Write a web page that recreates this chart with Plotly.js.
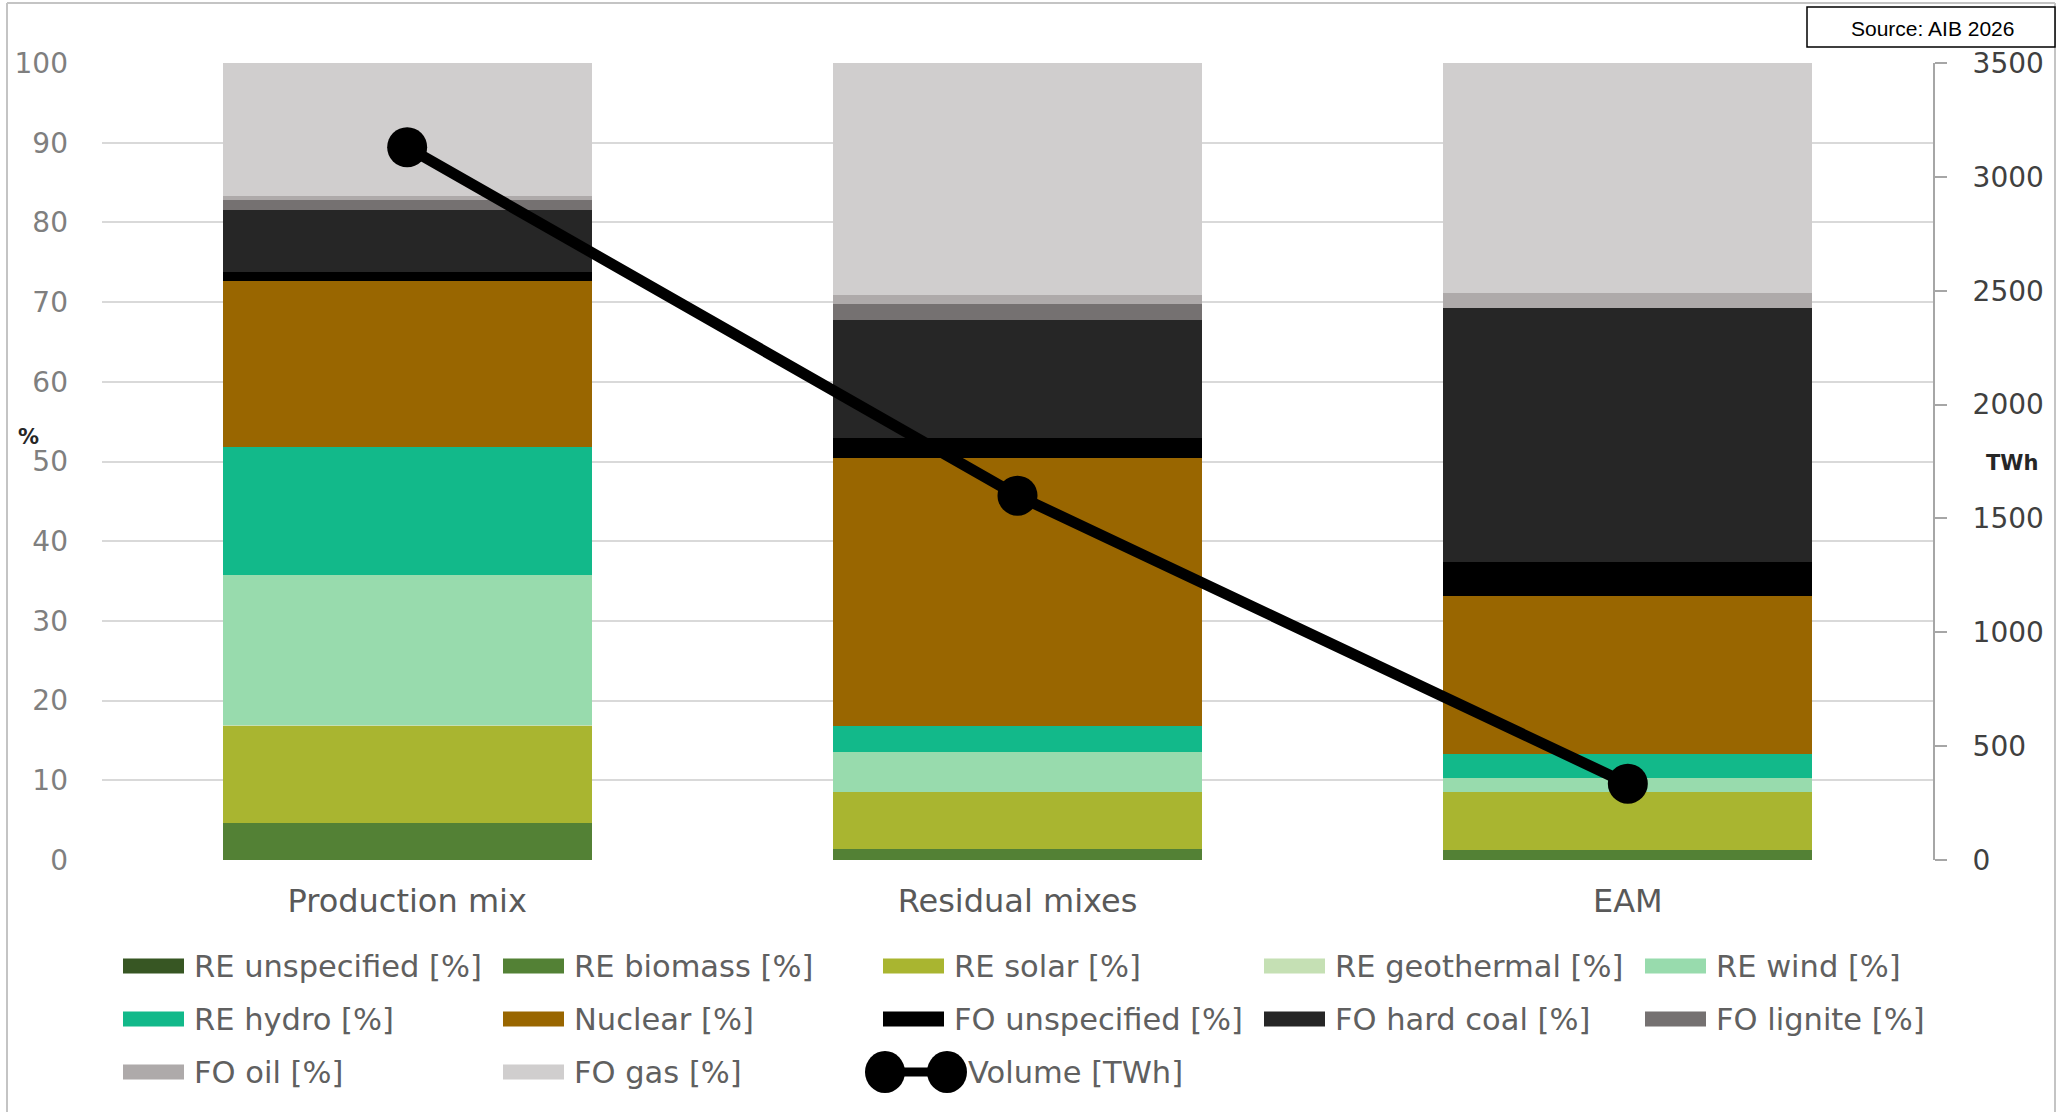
<!DOCTYPE html>
<html>
<head>
<meta charset="utf-8">
<script src="https://cdn.plot.ly/plotly-3.0.1.min.js"></script>
<style>
  html, body { margin: 0; padding: 0; background: #ffffff; }
  #chart { width: 2065px; height: 1112px; }
</style>
</head>
<body>
<div id="chart"></div>
<script>
// ---------------- DATA ----------------
const categories = ['Production mix', 'Residual mixes', 'EAM'];

const reUnspecified = [0, 0, 0];
const reBiomass     = [4.7, 1.4, 1.2];
const reSolar       = [12.1, 7.1, 7.3];
const reGeothermal  = [0.1, 0, 0];
const reWind        = [18.8, 5.0, 1.8];
const reHydro       = [16.1, 3.3, 3.0];
const nuclear       = [20.8, 33.6, 19.8];
const foUnspecified = [1.2, 2.5, 4.3];
const foHardCoal    = [7.8, 14.9, 31.9];
const foLignite     = [1.2, 2.0, 0];
const foOil         = [0.5, 1.1, 1.9];
const foGas         = [16.7, 29.1, 28.8];

const volumeTWh     = [3130, 1600, 335];

const seriesNames = [
  'RE unspecified [%]', 'RE biomass [%]', 'RE solar [%]', 'RE geothermal [%]', 'RE wind [%]',
  'RE hydro [%]', 'Nuclear [%]', 'FO unspecified [%]', 'FO hard coal [%]', 'FO lignite [%]',
  'FO oil [%]', 'FO gas [%]'
];
const seriesValues = [
  reUnspecified, reBiomass, reSolar, reGeothermal, reWind,
  reHydro, nuclear, foUnspecified, foHardCoal, foLignite,
  foOil, foGas
];
const volumeName = 'Volume [TWh]';

const yTicksLeft  = [0, 10, 20, 30, 40, 50, 60, 70, 80, 90, 100];
const yTicksRight = [0, 500, 1000, 1500, 2000, 2500, 3000, 3500];

// ---------------- STYLE ----------------
const seriesColors = [
  '#375623', '#538135', '#a9b530', '#c5e0b4', '#98dbad',
  '#12b98a', '#996600', '#000000', '#262626', '#757171',
  '#aeaaaa', '#d0cece'
];

const W = 2065, H = 1112;
const PL = 102, PR = 1933, PT = 63, PB = 860;
const px = x => (x - PL) / (PR - PL);
const py = y => (PB - y) / (PB - PT);

const traces = seriesNames.map((name, i) => ({
  type: 'bar',
  name: name,
  x: categories,
  y: seriesValues[i],
  marker: { color: seriesColors[i], line: { width: 0 } },
  showlegend: false,
  hoverinfo: 'x+y+name'
}));

traces.push({
  type: 'scatter',
  mode: 'lines+markers',
  name: volumeName,
  x: categories,
  y: volumeTWh,
  yaxis: 'y2',
  line: { color: '#000000', width: 11 },
  marker: { color: '#000000', size: 40 },
  showlegend: false,
  cliponaxis: false
});

// custom legend (Excel-like wide swatches)
const legendCols = [123, 503, 883, 1264, 1645];
const legendRows = [966, 1019, 1072];
const legendFont = { family: 'DejaVu Sans', size: 30.5, color: '#606060' };
const shapes = [];
const annotations = [];

seriesNames.forEach((name, i) => {
  const col = i % 5, row = Math.floor(i / 5);
  const x0 = legendCols[col], yc = legendRows[row];
  shapes.push({
    type: 'rect', xref: 'paper', yref: 'paper',
    x0: px(x0), x1: px(x0 + 61), y0: py(yc + 7.5), y1: py(yc - 7.5),
    fillcolor: seriesColors[i], line: { width: 0 }
  });
  annotations.push({
    xref: 'paper', yref: 'paper', x: px(x0 + 69), y: py(yc),
    xanchor: 'left', yanchor: 'middle', showarrow: false,
    text: name, font: legendFont
  });
});

// volume legend symbol
{
  const yc = legendRows[2];
  const a = 885, b = 947;
  shapes.push({ type: 'line', xref: 'paper', yref: 'paper',
    x0: px(a), x1: px(b), y0: py(yc), y1: py(yc), line: { color: '#000', width: 9 } });
  [a, b].forEach(c => shapes.push({ type: 'circle', xref: 'paper', yref: 'paper',
    x0: px(c - 20), x1: px(c + 20), y0: py(yc + 21), y1: py(yc - 21),
    fillcolor: '#000', line: { width: 0 } }));
  annotations.push({
    xref: 'paper', yref: 'paper', x: px(966), y: py(yc),
    xanchor: 'left', yanchor: 'middle', showarrow: false,
    text: volumeName, font: legendFont
  });
}

// outer border (top, left, right)
const borderCol = '#c4c4c4';
shapes.push({ type: 'line', xref: 'paper', yref: 'paper', x0: px(7), x1: px(2055), y0: py(3), y1: py(3), line: { color: borderCol, width: 2 } });
shapes.push({ type: 'line', xref: 'paper', yref: 'paper', x0: px(7), x1: px(7), y0: py(3), y1: py(1112), line: { color: borderCol, width: 2 } });
shapes.push({ type: 'line', xref: 'paper', yref: 'paper', x0: px(2055), x1: px(2055), y0: py(3), y1: py(1112), line: { color: borderCol, width: 2 } });

// source box
shapes.push({ type: 'rect', xref: 'paper', yref: 'paper',
  x0: px(1807), x1: px(2055), y0: py(47), y1: py(7),
  fillcolor: '#ffffff', line: { color: '#000000', width: 1.5 } });
annotations.push({ xref: 'paper', yref: 'paper', x: px(1932), y: py(29),
  xanchor: 'center', yanchor: 'middle', showarrow: false,
  text: 'Source: AIB 2026', font: { family: 'Liberation Sans, Arial', size: 21, color: '#000' } });

// axis unit labels
annotations.push({ xref: 'paper', yref: 'paper', x: px(28), y: py(437),
  xanchor: 'center', yanchor: 'middle', showarrow: false,
  text: '<b>%</b>', font: { family: 'DejaVu Sans', size: 21, color: '#262626' } });
annotations.push({ xref: 'paper', yref: 'paper', x: px(2012), y: py(463),
  xanchor: 'center', yanchor: 'middle', showarrow: false,
  text: '<b>TWh</b>', font: { family: 'DejaVu Sans', size: 21, color: '#262626' } });

const layout = {
  width: W, height: H,
  margin: { l: PL, r: W - PR, t: PT, b: H - PB, pad: 0 },
  paper_bgcolor: '#ffffff',
  plot_bgcolor: '#ffffff',
  barmode: 'stack',
  bargap: 0.395,
  showlegend: false,
  xaxis: {
    type: 'category',
    showgrid: false, zeroline: false, showline: false,
    ticks: '',
    tickfont: { family: 'DejaVu Sans', size: 32, color: '#595959' },
    ticklabelstandoff: 19
  },
  yaxis: {
    range: [0, 100],
    tickvals: yTicksLeft,
    showgrid: true, gridcolor: '#d9d9d9', gridwidth: 2,
    zeroline: false, showline: false, ticks: '',
    tickfont: { family: 'DejaVu Sans', size: 28, color: '#7f7f7f' },
    ticklabelstandoff: 33
  },
  yaxis2: {
    range: [0, 3500],
    tickvals: yTicksRight,
    overlaying: 'y', side: 'right',
    showgrid: false, zeroline: false,
    showline: true, linecolor: '#a6a6a6', linewidth: 2,
    ticks: 'outside', ticklen: 12, tickcolor: '#a6a6a6', tickwidth: 2,
    tickfont: { family: 'DejaVu Sans', size: 28, color: '#404040' },
    ticklabelstandoff: 20
  },
  shapes: shapes,
  annotations: annotations
};

Plotly.newPlot('chart', traces, layout, { displayModeBar: false, staticPlot: true });
</script>
</body>
</html>
